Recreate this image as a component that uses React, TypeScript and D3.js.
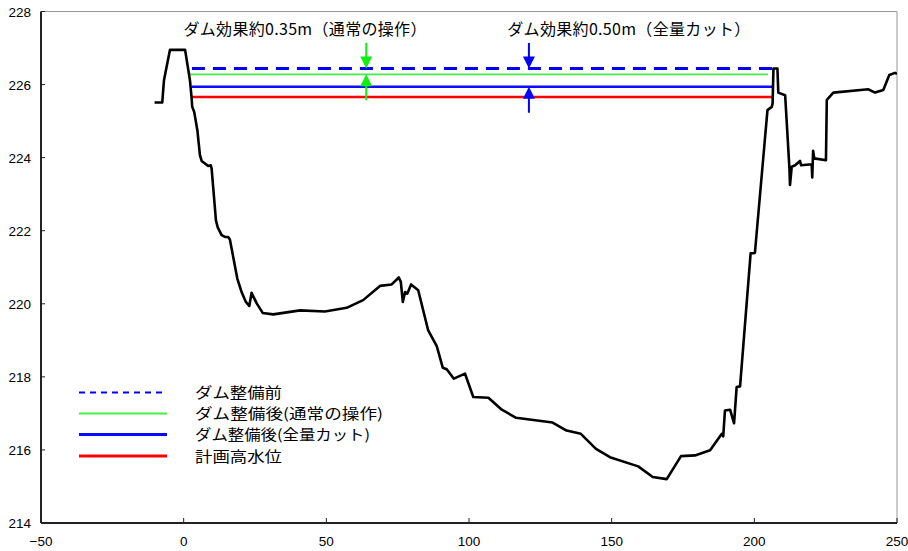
import React from "react";
import * as d3 from "d3";

// Cross-section profile: distance (m) and ground elevation (m)
const stations = [
  -10.2, -7.5, -6.9, -4.8, 0.5, 2.2, 2.8, 3.0, 3.7, 4.8, 5.7, 6.3, 8.6, 9.5, 9.8,
  11.3, 11.9, 13.3, 14.5, 15.6, 16.2, 18.8, 20.3, 21.8, 23.0, 23.8, 25.6, 27.7,
  31.4, 40.8, 49.5, 57.1, 62.9, 68.8, 72.9, 75.4, 76.1, 76.8, 77.6, 78.4, 79.7,
  82.2, 85.7, 88.7, 90.8, 92.2, 94.7, 98.6, 101.5, 106.8, 111.5, 116.5, 129.3,
  134.2, 139.2, 144.5, 149.4, 159.3, 164.4, 169.3, 174.3, 179.2, 184.5, 188.6,
  189.1, 189.7, 191.5, 192.9, 193.8, 195.0, 198.7, 200.2, 204.6, 206.1, 206.4,
  206.7, 208.1, 208.4, 210.8, 212.3, 212.5, 213.1, 214.3, 216.0, 216.4, 220.1,
  220.3, 220.6, 221.0, 225.1, 225.4, 227.7, 240.0, 242.3, 245.2, 247.3, 249.3, 250.0,
];
const elevations = [
  225.51, 225.51, 226.12, 226.95, 226.95, 226.12, 225.62, 225.39, 225.25, 224.75,
  224.07, 223.91, 223.77, 223.79, 223.7, 222.29, 222.1, 221.88, 221.83, 221.83,
  221.76, 220.69, 220.32, 220.05, 219.94, 220.3, 220.01, 219.75, 219.71, 219.82,
  219.79, 219.89, 220.1, 220.49, 220.53, 220.72, 220.6, 220.05, 220.32, 220.28,
  220.53, 220.37, 219.27, 218.84, 218.25, 218.21, 217.95, 218.09, 217.45, 217.43,
  217.1, 216.88, 216.75, 216.53, 216.44, 216.03, 215.8, 215.55, 215.26, 215.2,
  215.83, 215.85, 215.99, 216.44, 216.37, 217.08, 217.1, 216.73, 217.72, 217.74,
  221.38, 221.39, 225.3, 225.39, 225.48, 226.44, 226.44, 225.78, 225.71, 223.7,
  223.25, 223.75, 223.79, 223.91, 223.79, 223.82, 223.46, 224.19, 223.98, 223.93,
  225.58, 225.78, 225.87, 225.78, 225.85, 226.26, 226.32, 226.29,
];

// Water levels
const levelNames = ["ダム整備前", "ダム整備後(通常の操作)", "ダム整備後(全量カット)", "計画高水位"];
const levelValues = [226.44, 226.28, 225.94, 225.66];
const levelStart = [2.9, 1.9, 2.9, 2.9];
const levelEnd = [206.7, 204.8, 206.7, 206.7];

// Dam effect annotations
const effectTexts = ["ダム効果約0.35m（通常の操作）", "ダム効果約0.50m（全量カット）"];
const effectTextX = [42.5, 156];
const effectArrowX = [64, 121];
const effectUpper = [226.44, 226.44];
const effectLower = [226.28, 225.94];

const xTicks = [-50, 0, 50, 100, 150, 200, 250];
const yTicks = [214, 216, 218, 220, 222, 224, 226, 228];

const W = 908;
const H = 551;
const left = 41;
const right = 897;
const top = 11.5;
const bottom = 523;

const levelStyles = [
  { color: "#0000ff", width: 3, dash: "13 8", legendWidth: 2, legendDash: "6 5" },
  { color: "#44ee44", width: 1.6, dash: null, legendWidth: 2, legendDash: null },
  { color: "#0a0aff", width: 2.6, dash: null, legendWidth: 3.2, legendDash: null },
  { color: "#ff0000", width: 2.6, dash: null, legendWidth: 3.2, legendDash: null },
];
const legendRows = [392.5, 413.5, 434.5, 456];
const legendTextWidths = [87, 188, 175, 87];
const arrowColors = ["#11ee11", "#0000ff"];

const tickFont = "'Liberation Sans', Arial, sans-serif";
const jpFont = "'Noto Sans CJK JP', 'Noto Sans', sans-serif";

export default function App() {
  const x = d3.scaleLinear().domain([-50, 250]).range([left, right]);
  const y = d3.scaleLinear().domain([214, 228]).range([bottom, top]);

  const profile = stations.map((s, i) => [s, elevations[i]] as [number, number]);
  const line = d3
    .line<[number, number]>()
    .x((d) => x(d[0]))
    .y((d) => y(d[1]));

  const arrowHead = 12;
  const arrowHalf = 6;

  return (
    <svg
      width={W}
      height={H}
      style={{ position: "absolute", left: 0, top: 0, background: "#fff" }}
    >
      <defs>
        <clipPath id="plot-clip">
          <rect x={left} y={top} width={right - left} height={bottom - top} />
        </clipPath>
      </defs>
      <rect x={0} y={0} width={W} height={H} fill="#fff" />

      {/* frame: light top/right, dark left/bottom */}
      <line x1={left} x2={right} y1={top} y2={top} stroke="#999" strokeWidth={1} />
      <line x1={right} x2={right} y1={top} y2={bottom} stroke="#999" strokeWidth={1} />

      {/* water levels */}
      {levelValues.map((v, i) => (
        <line
          key={"lv" + i}
          x1={x(levelStart[i])}
          x2={x(levelEnd[i])}
          y1={y(v)}
          y2={y(v)}
          stroke={levelStyles[i].color}
          strokeWidth={levelStyles[i].width}
          strokeDasharray={levelStyles[i].dash ?? undefined}
        />
      ))}

      {/* ground profile */}
      <path
        d={line(profile) ?? ""}
        fill="none"
        stroke="#000"
        strokeWidth={2.6}
        strokeLinejoin="round"
        clipPath="url(#plot-clip)"
      />

      {/* effect arrows */}
      {effectArrowX.map((ax, i) => {
        const px = x(ax);
        const yu = y(effectUpper[i]);
        const yl = y(effectLower[i]);
        const c = arrowColors[i];
        const stemTop = 43;
        const stemBottom = yl + 26;
        return (
          <g key={"ar" + i}>
            <line x1={px} x2={px} y1={stemTop} y2={yu - arrowHead + 1} stroke={c} strokeWidth={2} />
            <path
              d={`M${px - arrowHalf},${yu - arrowHead} L${px + arrowHalf},${yu - arrowHead} L${px},${yu} Z`}
              fill={c}
            />
            <line x1={px} x2={px} y1={yl + arrowHead - 1} y2={stemBottom} stroke={c} strokeWidth={2} />
            <path
              d={`M${px - arrowHalf},${yl + arrowHead} L${px + arrowHalf},${yl + arrowHead} L${px},${yl} Z`}
              fill={c}
            />
          </g>
        );
      })}

      {/* effect labels */}
      {effectTexts.map((t, i) => (
        <text
          key={"et" + i}
          x={x(effectTextX[i])}
          y={35}
          textAnchor="middle"
          fontFamily={jpFont}
          fontSize={16}
          textLength={243}
          lengthAdjust="spacing"
          fill="#000"
        >
          {t}
        </text>
      ))}

      {/* axes */}
      <line x1={left} x2={left} y1={top} y2={bottom} stroke="#222" strokeWidth={2} />
      <line x1={left} x2={right} y1={bottom} y2={bottom} stroke="#222" strokeWidth={2} />

      {yTicks.map((t) => (
        <g key={"yt" + t}>
          <line x1={left} x2={left + 4} y1={y(t)} y2={y(t)} stroke="#222" strokeWidth={1} />
          <text
            x={31}
            y={y(t) + 5}
            textAnchor="end"
            fontFamily={tickFont}
            fontSize={13.5}
            fill="#000"
          >
            {t}
          </text>
        </g>
      ))}
      {xTicks.map((t) => (
        <g key={"xt" + t}>
          <line x1={x(t)} x2={x(t)} y1={bottom} y2={bottom - 5} stroke="#222" strokeWidth={1} />
          <text
            x={Math.min(x(t), W - 11)}
            y={546}
            textAnchor="middle"
            fontFamily={tickFont}
            fontSize={13.5}
            fill="#000"
          >
            {t < 0 ? "−" + Math.abs(t) : String(t)}
          </text>
        </g>
      ))}

      {/* legend */}
      {levelNames.map((name, i) => {
        const rowY = legendRows[i];
        const s = levelStyles[i];
        return (
          <g key={"lg" + i}>
            <line
              x1={79}
              x2={167}
              y1={rowY}
              y2={rowY}
              stroke={s.color}
              strokeWidth={s.legendWidth}
              strokeDasharray={s.legendDash ?? undefined}
            />
            <text
              x={195}
              y={rowY + 5.5}
              fontFamily={jpFont}
              fontSize={14.5}
              textLength={legendTextWidths[i]}
              lengthAdjust="spacingAndGlyphs"
              fill="#000"
            >
              {name}
            </text>
          </g>
        );
      })}
    </svg>
  );
}
